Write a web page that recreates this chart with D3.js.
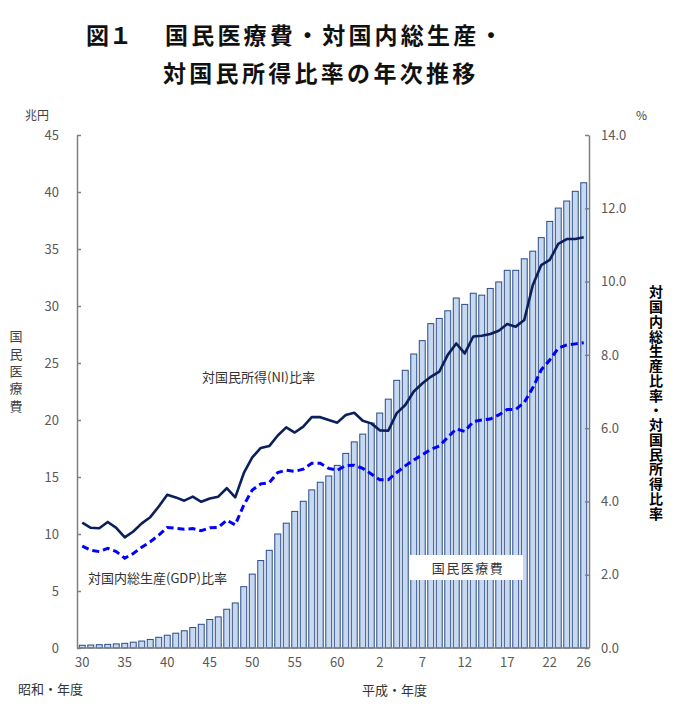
<!DOCTYPE html>
<html>
<head>
<meta charset="utf-8">
<script src="https://cdn.jsdelivr.net/npm/d3@7"></script>
<style>
  body { margin: 0; background: #fff; }
  text { font-family: "Noto Sans CJK JP", "Noto Sans", sans-serif; }
</style>
</head>
<body>
<div id="chart"></div>
<script>
// 昭和30年度 .. 平成26年度
var years = [
  "S30","S31","S32","S33","S34","S35","S36","S37","S38","S39",
  "S40","S41","S42","S43","S44","S45","S46","S47","S48","S49",
  "S50","S51","S52","S53","S54","S55","S56","S57","S58","S59",
  "S60","S61","S62","S63",
  "H1","H2","H3","H4","H5","H6","H7","H8","H9","H10",
  "H11","H12","H13","H14","H15","H16","H17","H18","H19","H20",
  "H21","H22","H23","H24","H25","H26"
];
// 国民医療費 (兆円)
var medical = [
  0.24, 0.26, 0.29, 0.32, 0.36, 0.41, 0.51, 0.61, 0.75, 0.94,
  1.12, 1.30, 1.51, 1.80, 2.08, 2.50, 2.73, 3.40, 3.95, 5.38,
  6.48, 7.67, 8.57, 10.00, 10.95, 11.98, 12.87, 13.87, 14.54, 15.09,
  16.02, 17.07, 18.08, 18.76,
  19.73, 20.61, 21.83, 23.48, 24.36, 25.79, 26.96, 28.45, 28.91, 29.58,
  30.70, 30.14, 31.12, 30.95, 31.54, 32.11, 33.13, 33.13, 34.14, 34.81,
  36.00, 37.42, 38.59, 39.21, 40.06, 40.81
];
// 対国民所得比率 (%)
var niRatio = [
  3.42, 3.28, 3.27, 3.44, 3.28, 3.02, 3.18, 3.40, 3.57, 3.86,
  4.18, 4.11, 4.02, 4.13, 3.99, 4.08, 4.13, 4.36, 4.11, 4.77,
  5.20, 5.46, 5.51, 5.80, 6.02, 5.88, 6.04, 6.30, 6.30, 6.22,
  6.15, 6.36, 6.42, 6.20,
  6.13, 5.94, 5.93, 6.41, 6.63, 7.00, 7.22, 7.40, 7.54, 8.00,
  8.31, 8.04, 8.50, 8.52, 8.57, 8.66, 8.84, 8.77, 8.95, 9.90,
  10.45, 10.59, 11.03, 11.16, 11.16, 11.21
];
// 対国内総生産比率 (%)
var gdpRatio = [
  2.78, 2.67, 2.63, 2.72, 2.63, 2.45, 2.58, 2.75, 2.90, 3.08,
  3.29, 3.27, 3.24, 3.26, 3.20, 3.28, 3.29, 3.49, 3.36, 3.90,
  4.31, 4.48, 4.51, 4.79, 4.85, 4.82, 4.88, 5.04, 5.04, 4.90,
  4.85, 4.98, 4.99, 4.90,
  4.75, 4.59, 4.59, 4.79, 4.97, 5.13, 5.27, 5.42, 5.51, 5.75,
  5.98, 5.91, 6.18, 6.22, 6.25, 6.36, 6.51, 6.51, 6.70, 7.10,
  7.59, 7.86, 8.18, 8.27, 8.30, 8.33
];
var xTickYears = ["S30","S35","S40","S45","S50","S55","S60","H2","H7","H12","H17","H22","H26"];
var leftTicks = [0, 5, 10, 15, 20, 25, 30, 35, 40, 45];
var rightTicks = [0, 2, 4, 6, 8, 10, 12, 14];

var width = 680, height = 712;
var plotLeft = 77, plotRight = 589, plotTop = 135, plotBottom = 648;
var axisColor = '#808080', labelColor = '#595959';

var svg = d3.select('#chart').append('svg')
    .attr('width', width)
    .attr('height', height);

var x = d3.scaleBand()
    .domain(years)
    .range([plotLeft + 1, plotRight - 1])
    .paddingInner(0.3)
    .paddingOuter(0.15);
var yL = d3.scaleLinear().domain([0, 45]).range([plotBottom, plotTop]);
var yR = d3.scaleLinear().domain([0, 14]).range([plotBottom, plotTop]);

function cx(d) { return x(d) + x.bandwidth() / 2; }

// bars
svg.append('g').attr('class', 'bars')
  .selectAll('rect')
    .data(years)
  .enter().append('rect')
    .attr('x', function(d) { return x(d); })
    .attr('width', x.bandwidth())
    .attr('y', function(d, i) { return yL(medical[i]); })
    .attr('height', function(d, i) { return plotBottom - yL(medical[i]); })
    .attr('fill', '#c6d9f1')
    .attr('stroke', '#2b4a86')
    .attr('stroke-width', 1);

// ratio lines
var gdpLine = d3.line()
    .x(function(d) { return cx(d); })
    .y(function(d, i) { return yR(gdpRatio[i]); });
var niLine = d3.line()
    .x(function(d) { return cx(d); })
    .y(function(d, i) { return yR(niRatio[i]); });

svg.append('path')
    .attr('d', gdpLine(years))
    .attr('fill', 'none')
    .attr('stroke', '#0000ff')
    .attr('stroke-width', 3)
    .attr('stroke-dasharray', '7,4');
svg.append('path')
    .attr('d', niLine(years))
    .attr('fill', 'none')
    .attr('stroke', '#0a1f5c')
    .attr('stroke-width', 2.6)
    .attr('stroke-linejoin', 'round');

// axes
var leftAxis = svg.append('g')
    .attr('transform', 'translate(' + plotLeft + ',0)')
    .call(d3.axisLeft(yL).tickValues(leftTicks).tickSize(-4).tickSizeOuter(0).tickPadding(18));
var rightAxis = svg.append('g')
    .attr('transform', 'translate(' + plotRight + ',0)')
    .call(d3.axisRight(yR).tickValues(rightTicks).tickSize(-4).tickSizeOuter(0).tickPadding(12)
      .tickFormat(d3.format('.1f')));
var bottomAxis = svg.append('g')
    .attr('transform', 'translate(0,' + plotBottom + ')')
    .call(d3.axisBottom(x).tickValues(xTickYears).tickSize(0).tickPadding(10)
      .tickFormat(function(d) { return d.slice(1); }));
bottomAxis.select('.domain').remove();
svg.append('line')
    .attr('x1', plotLeft).attr('x2', plotRight)
    .attr('y1', plotBottom).attr('y2', plotBottom)
    .attr('stroke', axisColor).attr('stroke-width', 1.5);

[leftAxis, rightAxis, bottomAxis].forEach(function(g) {
  g.select('.domain').attr('stroke', axisColor).attr('stroke-width', 1.5);
  g.selectAll('.tick line').attr('stroke', axisColor).attr('stroke-width', 1.5);
  g.selectAll('.tick text')
    .attr('fill', labelColor)
    .style('font-size', '13px')
    .style('font-family', '"Noto Sans CJK JP", sans-serif');
});

// title
var title = svg.append('g')
    .style('font-weight', 'bold')
    .style('font-size', '23px')
    .attr('fill', '#111');
title.append('text').attr('x', 86).attr('y', 44).text('図１');
title.append('text').attr('x', 165).attr('y', 44).style('letter-spacing', '3.2px')
    .text('国民医療費・対国内総生産・');
title.append('text').attr('x', 163).attr('y', 82).style('letter-spacing', '3.3px')
    .text('対国民所得比率の年次推移');

// units
svg.append('text').attr('x', 25).attr('y', 120)
    .attr('fill', '#404040').style('font-size', '12px').text('兆円');
svg.append('text').attr('x', 636).attr('y', 120)
    .attr('fill', '#404040').style('font-size', '12px').text('%');

// vertical axis titles
svg.append('text')
    .attr('x', 16).attr('y', 330)
    .attr('writing-mode', 'vertical-rl')
    .attr('fill', '#404040')
    .style('font-size', '13px')
    .style('letter-spacing', '4.3px')
    .text('国民医療費');
svg.append('text')
    .attr('x', 656).attr('y', 285)
    .attr('writing-mode', 'vertical-rl')
    .attr('fill', '#000')
    .style('font-size', '14px')
    .style('font-weight', 'bold')
    .style('letter-spacing', '0.75px')
    .text('対国内総生産比率・対国民所得比率');

// series labels
svg.append('text').attr('x', 202).attr('y', 382)
    .attr('fill', '#333').style('font-size', '13px').text('対国民所得(NI)比率');
svg.append('text').attr('x', 88).attr('y', 583)
    .attr('fill', '#333').style('font-size', '13px').text('対国内総生産(GDP)比率');
svg.append('rect').attr('x', 410).attr('y', 555).attr('width', 113).attr('height', 25)
    .attr('fill', '#fff');
svg.append('text').attr('x', 468).attr('y', 573).attr('text-anchor', 'middle')
    .attr('fill', '#333').style('font-size', '13px').style('letter-spacing', '1.5px')
    .text('国民医療費');

// era labels
svg.append('text').attr('x', 18).attr('y', 694)
    .attr('fill', '#333').style('font-size', '13px').text('昭和・年度');
svg.append('text').attr('x', 362).attr('y', 695)
    .attr('fill', '#333').style('font-size', '13px').text('平成・年度');
</script>
</body>
</html>
